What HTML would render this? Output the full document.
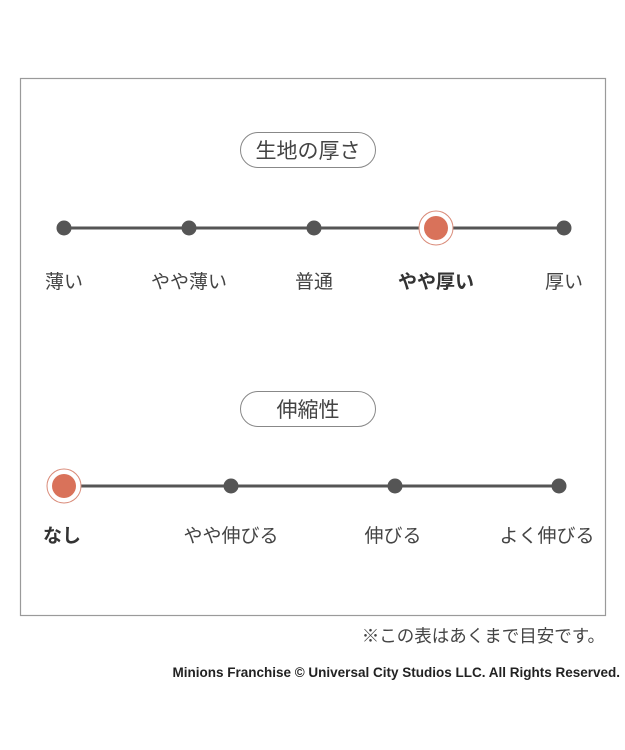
<!DOCTYPE html>
<html><head><meta charset="utf-8"><style>
html,body{margin:0;padding:0;background:#fff;}
svg{display:block;font-family:"Liberation Sans","Noto Sans CJK JP",sans-serif;}
</style></head><body>
<svg width="625" height="750" viewBox="0 0 625 750">
<rect x="20.5" y="78.5" width="585" height="537" fill="#fff" stroke="#9a9a9a" stroke-width="1.2"/>
<rect x="240.5" y="132.5" width="135" height="35" rx="17.5" fill="#fff" stroke="#888" stroke-width="1"/>
<text x="308" y="158" font-size="21" fill="#444" text-anchor="middle">生地の厚さ</text>
<line x1="64" y1="228" x2="564" y2="228" stroke="#555" stroke-width="3"/>
<g fill="#555"><circle cx="64" cy="228" r="7.5"/><circle cx="189" cy="228" r="7.5"/><circle cx="314" cy="228" r="7.5"/><circle cx="564" cy="228" r="7.5"/></g>
<circle cx="436" cy="228" r="17" fill="#fff" stroke="#d98a78" stroke-width="1"/>
<circle cx="436" cy="228" r="12" fill="#d9725a"/>
<g font-size="19" fill="#444" text-anchor="middle">
<text x="64" y="288">薄い</text><text x="189" y="288">やや薄い</text><text x="314" y="288">普通</text>
<text x="436" y="288" font-weight="bold" fill="#333">やや厚い</text><text x="564" y="288">厚い</text></g>
<rect x="240.5" y="391.5" width="135" height="35" rx="17.5" fill="#fff" stroke="#888" stroke-width="1"/>
<text x="308" y="417" font-size="21" fill="#444" text-anchor="middle">伸縮性</text>
<line x1="64" y1="486" x2="559" y2="486" stroke="#555" stroke-width="3"/>
<g fill="#555"><circle cx="231" cy="486" r="7.5"/><circle cx="395" cy="486" r="7.5"/><circle cx="559" cy="486" r="7.5"/></g>
<circle cx="64" cy="486" r="17" fill="#fff" stroke="#d98a78" stroke-width="1"/>
<circle cx="64" cy="486" r="12" fill="#d9725a"/>
<g font-size="19" fill="#444" text-anchor="middle">
<text x="62" y="542" font-weight="bold" fill="#333">なし</text><text x="231" y="542">やや伸びる</text>
<text x="393" y="542">伸びる</text><text x="547" y="542">よく伸びる</text></g>
<text x="605" y="642" font-size="17.5" fill="#444" text-anchor="end">※この表はあくまで目安です。</text>
<text x="620" y="677" font-size="13.5" font-weight="bold" fill="#222" text-anchor="end">Minions Franchise © Universal City Studios LLC. All Rights Reserved.</text>
</svg>
</body></html>
